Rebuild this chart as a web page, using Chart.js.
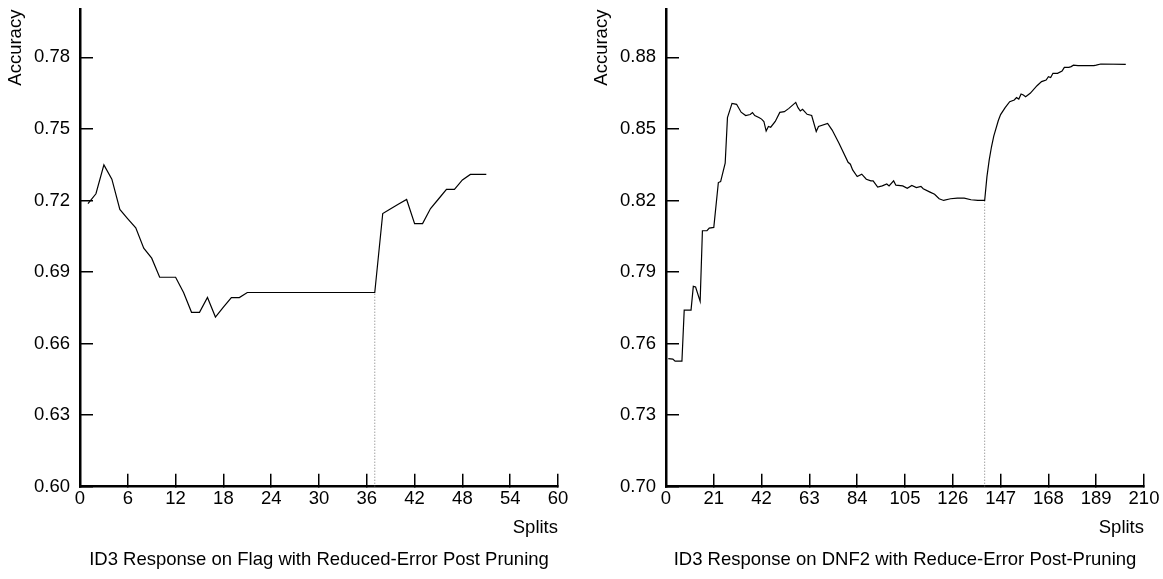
<!DOCTYPE html>
<html>
<head>
<meta charset="utf-8">
<title>ID3 Response with Reduced-Error Post-Pruning</title>
<script src="https://cdn.jsdelivr.net/npm/chart.js@4.4.1/dist/chart.umd.min.js"></script>
<style>
    html, body { margin: 0; padding: 0; background: #fff; overflow: hidden; }
    #flagChart { position: absolute; left: 0; top: 0; }
    #dnfChart { position: absolute; left: 586px; top: 0; }
</style>
</head>
<body>
<canvas id="flagChart" width="586" height="579"></canvas>
<canvas id="dnfChart" width="577" height="579"></canvas>
<script>
// Flag dataset (left chart)
const flagSplits = [1, 2, 3, 4, 5, 6, 7, 8, 9, 10, 11, 12, 13, 14, 15, 16, 17, 18, 19, 20,
    21, 22, 23, 24, 25, 26, 27, 28, 29, 30, 31, 32, 33, 34, 35, 36, 37,
    38, 39, 40, 41, 42, 43, 44, 45, 46, 47, 48, 49, 50, 51];
const flagAccuracy = [0.7187, 0.7228, 0.7349, 0.7289, 0.7162, 0.7123, 0.7085, 0.7000, 0.6958, 0.6878,
    0.6878, 0.6878, 0.6814, 0.6731, 0.6731, 0.6793, 0.6711, 0.6753, 0.6793, 0.6793,
    0.6814, 0.6814, 0.6814, 0.6814, 0.6814, 0.6814, 0.6814, 0.6814, 0.6814, 0.6814,
    0.6814, 0.6814, 0.6814, 0.6814, 0.6814, 0.6814, 0.6814,
    0.7145, 0.7165, 0.7185, 0.7204, 0.7103, 0.7103, 0.7166, 0.7206, 0.7246, 0.7246,
    0.7286, 0.7309, 0.7309, 0.7309];
const flagPruneSplit = 37;
const flagXTicks = [0, 6, 12, 18, 24, 30, 36, 42, 48, 54, 60];
const flagYTicks = [0.60, 0.63, 0.66, 0.69, 0.72, 0.75, 0.78];

// DNF2 dataset (right chart)
const dnfSplits = [1, 3, 4, 7, 8, 11, 12, 13, 15, 16, 18, 19, 21, 23, 24, 26, 27, 29, 31, 33,
    35, 37, 38, 39, 41, 42, 43, 44, 45, 46, 48, 50, 52, 54, 57, 58, 59, 60, 62, 64,
    66, 67, 71, 73, 76, 80, 81, 82, 84, 86, 88, 90, 91, 93, 95, 97, 98, 100, 101, 104,
    106, 108, 110, 112, 113, 116, 118, 120, 122, 125, 128, 131, 134, 137, 140, 141, 142, 143, 144, 146,
    147, 149, 151, 153, 154, 155, 156, 157, 158, 160, 163, 165, 167, 168, 169, 170, 172, 174, 175, 177,
    178, 179, 181, 186, 188, 189, 191, 202];
const dnfAccuracy = [0.7537, 0.7535, 0.7526, 0.7526, 0.7740, 0.7740, 0.7840, 0.7837, 0.7777, 0.8073,
    0.8073, 0.8084, 0.8087, 0.8275, 0.8279, 0.8356, 0.8547, 0.8607, 0.8603, 0.8570,
    0.8556, 0.8560, 0.8568, 0.8556, 0.8547, 0.8541, 0.8531, 0.8491, 0.8510, 0.8507,
    0.8531, 0.8569, 0.8572, 0.8586, 0.8611, 0.8589, 0.8575, 0.8582, 0.8561, 0.8556,
    0.8489, 0.8510, 0.8523, 0.8495, 0.8440, 0.8360, 0.8352, 0.8328, 0.8300, 0.8310,
    0.8289, 0.8282, 0.8282, 0.8256, 0.8261, 0.8269, 0.8261, 0.8282, 0.8264, 0.8261,
    0.8251, 0.8263, 0.8254, 0.8259, 0.8249, 0.8235, 0.8226, 0.8207, 0.8200, 0.8207,
    0.8210, 0.8210, 0.8203, 0.8200, 0.8200, 0.8300, 0.8370, 0.8425, 0.8470, 0.8535,
    0.8560, 0.8589, 0.8614, 0.8621, 0.8631, 0.8625, 0.8646, 0.8642, 0.8635, 0.8649,
    0.8681, 0.8698, 0.8705, 0.8719, 0.8715, 0.8733, 0.8733, 0.8742, 0.8758, 0.8758,
    0.8761, 0.8767, 0.8765, 0.8765, 0.8765, 0.8767, 0.8772, 0.8770];
const dnfPruneSplit = 140;
const dnfXTicks = [0, 21, 42, 63, 84, 105, 126, 147, 168, 189, 210];
const dnfYTicks = [0.70, 0.73, 0.76, 0.79, 0.82, 0.85, 0.88];

const FONT = '"Liberation Sans", Arial, sans-serif';
const FONT_SIZE = 18.5;

// caption under each plot, centred on the plot area
const captionPlugin = {
    id: 'caption',
    afterDraw(chart, args, opts) {
        if (!opts.text) return;
        const { ctx, chartArea } = chart;
        ctx.save();
        ctx.font = FONT_SIZE + 'px ' + FONT;
        ctx.fillStyle = '#000';
        ctx.textAlign = 'center';
        ctx.textBaseline = 'middle';
        ctx.fillText(opts.text, (chartArea.left + chartArea.right) / 2, opts.y);
        ctx.restore();
    }
};
Chart.register(captionPlugin);

function makeChart(canvasId, cfg) {
    const points = cfg.splits.map((s, i) => ({ x: s, y: cfg.accuracy[i] }));
    const pruneValue = cfg.accuracy[cfg.splits.indexOf(cfg.pruneSplit)];
    const pruneLine = [{ x: cfg.pruneSplit, y: cfg.yMin }, { x: cfg.pruneSplit, y: pruneValue }];

    const axisBorder = { display: true, color: '#000', width: 2.5 };
    const axisGrid = { drawOnChartArea: false, drawTicks: true, color: '#000', lineWidth: 1.5, tickLength: -13 };
    const tickFont = { family: FONT, size: FONT_SIZE };

    return new Chart(document.getElementById(canvasId), {
        type: 'line',
        data: {
            datasets: [
                { data: points, borderColor: '#000', borderWidth: 1.2, pointRadius: 0, tension: 0, fill: false },
                { data: pruneLine, borderColor: '#777', borderWidth: 1, borderDash: [1, 2], pointRadius: 0, fill: false }
            ]
        },
        options: {
            responsive: false,
            animation: false,
            events: [],
            layout: { padding: { left: 0, right: cfg.padRight, top: 9.6, bottom: 40 } },
            plugins: {
                legend: { display: false },
                tooltip: { enabled: false },
                caption: { text: cfg.caption, y: 560 }
            },
            scales: {
                x: {
                    type: 'linear',
                    min: cfg.xMin,
                    max: cfg.xMax,
                    border: axisBorder,
                    grid: axisGrid,
                    ticks: { color: '#000', font: tickFont, padding: 14, maxRotation: 0 },
                    title: { display: true, text: 'Splits', align: 'end', color: '#000', font: tickFont, padding: { top: 0, bottom: 0 } },
                    afterBuildTicks: s => { s.ticks = cfg.xTicks.map(v => ({ value: v })); },
                    afterFit: s => { s.height = 52.3; s.paddingLeft = 0; s.paddingRight = 0; }
                },
                y: {
                    type: 'linear',
                    min: cfg.yMin,
                    max: cfg.yMax,
                    border: axisBorder,
                    grid: axisGrid,
                    ticks: { color: '#000', font: tickFont, padding: 23, callback: v => v.toFixed(2) },
                    title: { display: true, text: 'Accuracy', align: 'end', color: '#000', font: tickFont, padding: { top: 5, bottom: 0 } },
                    afterBuildTicks: s => { s.ticks = cfg.yTicks.map(v => ({ value: v })); },
                    afterFit: s => { s.width = 80; s.paddingTop = 0; s.paddingBottom = 0; }
                }
            }
        }
    });
}

makeChart('flagChart', {
    splits: flagSplits, accuracy: flagAccuracy, pruneSplit: flagPruneSplit,
    xTicks: flagXTicks, yTicks: flagYTicks,
    xMin: 0, xMax: 60, yMin: 0.60, yMax: 0.80, padRight: 28,
    caption: 'ID3 Response on Flag with Reduced-Error Post Pruning'
});

makeChart('dnfChart', {
    splits: dnfSplits, accuracy: dnfAccuracy, pruneSplit: dnfPruneSplit,
    xTicks: dnfXTicks, yTicks: dnfYTicks,
    xMin: 0, xMax: 210, yMin: 0.70, yMax: 0.90, padRight: 19,
    caption: 'ID3 Response on DNF2 with Reduce-Error Post-Pruning'
});
</script>
</body>
</html>
